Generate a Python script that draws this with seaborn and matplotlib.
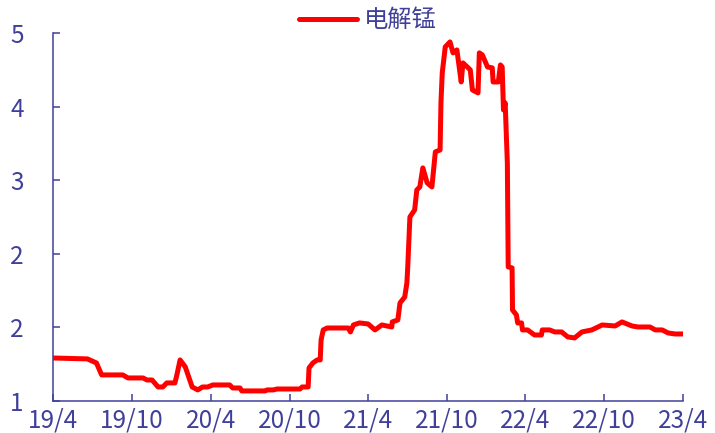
import pandas as pd
import matplotlib.pyplot as plt
import seaborn as sns

# 电解锰 price series
dates = [
    "2019-04-01", "2019-06-20", "2019-07-11", "2019-07-23", "2019-09-10", "2019-09-22",
    "2019-10-27", "2019-11-05", "2019-11-17", "2019-12-01", "2019-12-12", "2019-12-21",
    "2020-01-09", "2020-01-14", "2020-01-21", "2020-02-02", "2020-02-18", "2020-03-02",
    "2020-03-13", "2020-03-25", "2020-04-06", "2020-05-15", "2020-05-22", "2020-06-08",
    "2020-06-12", "2020-08-05", "2020-08-10", "2020-08-24", "2020-09-02", "2020-10-25",
    "2020-10-30", "2020-11-13", "2020-11-15", "2020-11-24", "2020-12-04", "2020-12-11",
    "2020-12-13", "2020-12-18", "2020-12-27", "2021-02-14", "2021-02-19", "2021-02-26",
    "2021-03-12", "2021-04-01", "2021-04-17", "2021-05-03", "2021-05-26", "2021-05-27",
    "2021-06-09", "2021-06-14", "2021-06-25", "2021-06-30", "2021-07-02", "2021-07-07",
    "2021-07-18", "2021-07-23", "2021-07-30", "2021-08-06", "2021-08-16", "2021-08-27",
    "2021-09-04", "2021-09-15", "2021-09-17", "2021-09-20", "2021-09-27", "2021-10-08",
    "2021-10-15", "2021-10-24", "2021-11-03", "2021-11-07", "2021-11-17", "2021-11-24",
    "2021-11-29", "2021-12-12", "2021-12-15", "2021-12-22", "2022-01-03", "2022-01-14",
    "2022-01-16", "2022-01-28", "2022-02-02", "2022-02-06", "2022-02-09", "2022-02-13",
    "2022-02-18", "2022-02-20", "2022-03-01", "2022-03-02", "2022-03-11", "2022-03-14",
    "2022-03-23", "2022-03-25", "2022-04-06", "2022-04-22", "2022-05-08", "2022-05-10",
    "2022-05-27", "2022-06-08", "2022-06-24", "2022-07-08", "2022-07-24", "2022-08-10",
    "2022-09-02", "2022-09-26", "2022-10-26", "2022-11-11", "2022-12-04", "2022-12-18",
    "2023-01-15", "2023-01-27", "2023-02-12", "2023-02-26", "2023-03-14", "2023-04-01",
]
values = [
    1.467, 1.457, 1.413, 1.283, 1.283, 1.250,
    1.250, 1.228, 1.228, 1.152, 1.152, 1.196,
    1.196, 1.293, 1.446, 1.370, 1.152, 1.120,
    1.152, 1.152, 1.174, 1.174, 1.141, 1.141,
    1.109, 1.109, 1.120, 1.120, 1.130, 1.130,
    1.152, 1.152, 1.359, 1.413, 1.446, 1.446,
    1.663, 1.772, 1.793, 1.793, 1.750, 1.826,
    1.848, 1.837, 1.772, 1.826, 1.804, 1.859,
    1.880, 2.065, 2.130, 2.283, 2.457, 3.000,
    3.076, 3.293, 3.326, 3.533, 3.370, 3.326,
    3.707, 3.728, 4.239, 4.565, 4.848, 4.902,
    4.783, 4.815, 4.467, 4.674, 4.630, 4.598,
    4.380, 4.348, 4.783, 4.761, 4.630, 4.620,
    4.467, 4.467, 4.652, 4.630, 4.163, 4.239,
    3.587, 2.457, 2.446, 1.989, 1.935, 1.848,
    1.848, 1.772, 1.772, 1.717, 1.717, 1.772,
    1.772, 1.750, 1.750, 1.696, 1.685, 1.750,
    1.772, 1.826, 1.815, 1.859, 1.815, 1.804,
    1.804, 1.772, 1.772, 1.739, 1.728, 1.728,
]

ytick_pos = [1.0, 1.8, 2.6, 3.4, 4.2, 5.0]
ytick_labels = ["1", "2", "2", "3", "4", "5"]
xtick_dates = ["2019-04-01", "2019-10-01", "2020-04-01", "2020-10-01", "2021-04-01",
               "2021-10-01", "2022-04-01", "2022-10-01", "2023-04-01"]
xtick_labels = ["19/4", "19/10", "20/4", "20/10", "21/4", "21/10", "22/4", "22/10", "23/4"]

df = pd.DataFrame({"date": pd.to_datetime(dates), "电解锰": values})

sns.set_style("white")
plt.rcParams['font.family'] = ['Noto Sans CJK SC', 'DejaVu Sans']
axis_col = "#40409a"

fig = plt.figure(figsize=(7.15, 4.33), dpi=100)
ax = fig.add_axes([0.074, 0.074, 0.881, 0.850])

sns.lineplot(data=df, x="date", y="电解锰", color="#ff0000", linewidth=3.6,
             label="电解锰", ax=ax, solid_capstyle="round", solid_joinstyle="round")

ax.set_xlim(pd.Timestamp("2019-04-01"), pd.Timestamp("2023-04-01"))
ax.set_ylim(1.0, 5.0)
ax.set_xticks(pd.to_datetime(xtick_dates))
ax.set_xticklabels(xtick_labels)
ax.set_yticks(ytick_pos)
ax.set_yticklabels(ytick_labels)
ax.set_xlabel("")
ax.set_ylabel("")

for s in ["top", "right"]:
    ax.spines[s].set_visible(False)
for s in ["left", "bottom"]:
    ax.spines[s].set_color(axis_col)
    ax.spines[s].set_linewidth(1.1)

ax.tick_params(axis="both", direction="in", length=5, width=1.1, color=axis_col,
               labelcolor=axis_col, labelsize=17.5, bottom=True, left=True)
ax.tick_params(axis="y", pad=21)
ax.tick_params(axis="x", pad=5)

leg = ax.legend(loc="center", bbox_to_anchor=(0.5, 1.035), frameon=False,
                fontsize=17.5, handlelength=2.4, handletextpad=0.3, borderaxespad=0)
for t in leg.get_texts():
    t.set_color(axis_col)
for h in leg.get_lines():
    h.set_solid_capstyle("round")

fig.savefig("out.png", dpi=100)
